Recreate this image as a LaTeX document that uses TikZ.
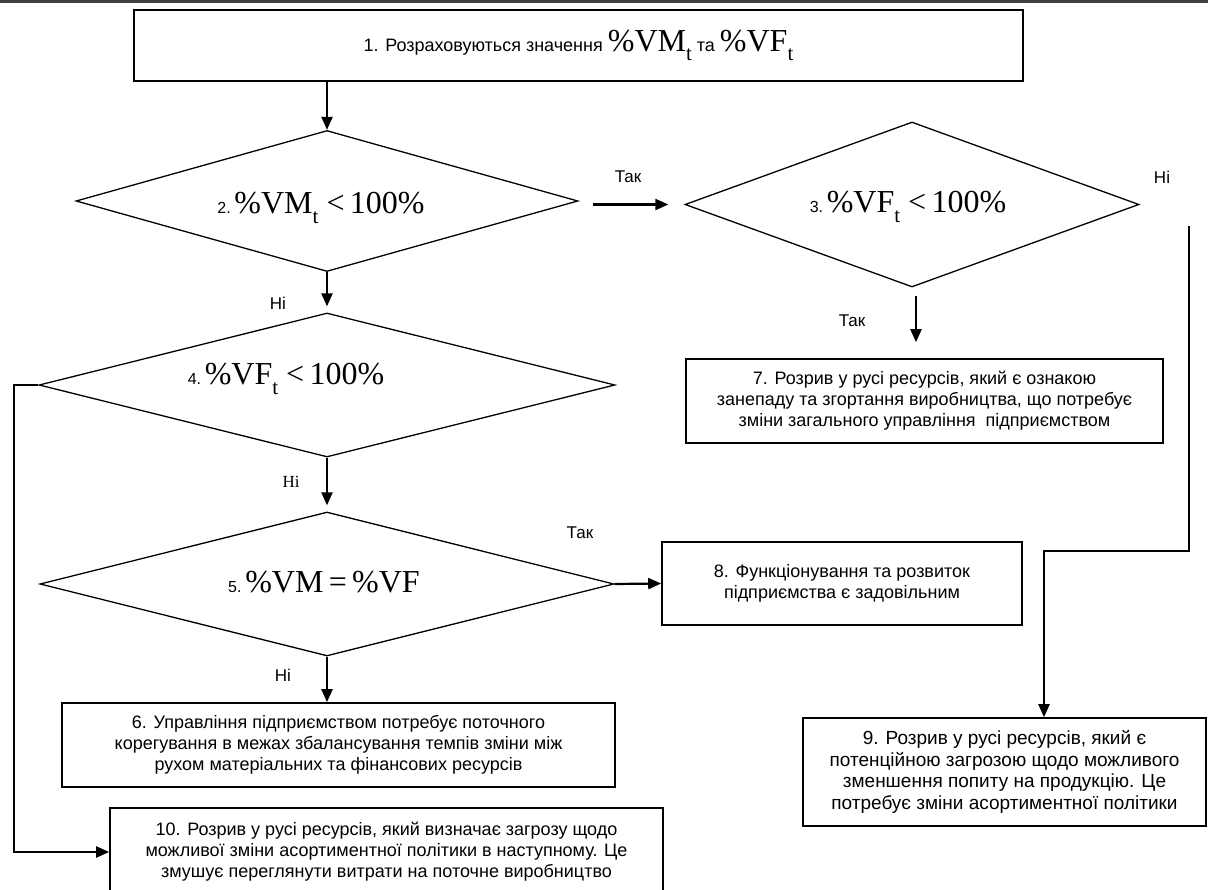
\documentclass[tikz,border=0pt]{standalone}
\usepackage{fontspec}
\setmainfont{Liberation Sans}
\newfontfamily\tnr{Liberation Serif}
\usetikzlibrary{shapes.geometric,arrows.meta,calc}
\newcommand{\mth}[1]{{\tnr\fontsize{32}{34}\selectfont #1}}
\newcommand{\sbt}{\raisebox{-0.3em}{\fontsize{21}{21}\selectfont t}}
\newcommand{\num}[1]{{\fontsize{16}{16}\selectfont #1}}
\tikzset{
  box/.style={draw, line width=1.6pt, rectangle, inner sep=0pt, align=center,
    font=\fontsize{18}{21}\selectfont},
  dia/.style={draw, line width=1.3pt, diamond, aspect=3.5, inner sep=0pt},
  dtext/.style={inner sep=0pt},
  arr/.style={line width=2.2pt, -{Triangle[length=13pt,width=11pt]}},
  lbl/.style={font=\fontsize{17}{17}\selectfont, inner sep=0pt},
}
\begin{document}
\begin{tikzpicture}[x=1pt,y=-1pt]
\useasboundingbox (0,0) rectangle (1208,890);
\clip (0,0) rectangle (1208,890);
\draw[line width=3pt, black!75] (0,2) -- (1208,2);

% boxes
\node[box, minimum width=889pt, minimum height=71pt] (B1) at (578.5,45.5)
  {1. Розраховуються значення \mth{\%VM\sbt} та \mth{\%VF\sbt}};
\node[box, minimum width=477pt, minimum height=84pt] (B7) at (924.5,401)
  {7. Розрив у русі ресурсів, який є ознакою\\занепаду та згортання виробництва, що потребує\\зміни загального управління~ підприємством};
\node[box, minimum width=360pt, minimum height=83pt] (B8) at (842,583.5)
  {8. Функціонування та розвиток\\підприємства є задовільним};
\node[box, minimum width=553pt, minimum height=84pt] (B6) at (338.5,745)
  {6. Управління підприємством потребує поточного\\корегування в межах збалансування темпів зміни між\\рухом матеріальних та фінансових ресурсів};
\node[box, minimum width=553pt, minimum height=88pt] (B10) at (386.5,852)
  {10. Розрив у русі ресурсів, який визначає загрозу щодо\\можливої зміни асортиментної політики в наступному. Це\\змушує переглянути витрати на поточне виробництво};
\node[box, minimum width=403pt, minimum height=108pt, font=\fontsize{19}{21.5}\selectfont] (B9) at (1004.5,772)
  {9. Розрив у русі ресурсів, який є\\потенційною загрозою щодо можливого\\зменшення попиту на продукцію. Це\\потребує зміни асортиментної політики};

% diamonds
\node[dia, minimum width=502pt, minimum height=141pt] (D2) at (327,201) {};
\node[dtext] (D2t) at (321,208) {\num{2.} \mth{\%VM\sbt\ <\,100\%}};
\node[dia, minimum width=454pt, minimum height=165pt] (D3) at (912,204.5) {};
\node[dtext] (D3t) at (908,207) {\num{3.} \mth{\%VF\sbt\ <\,100\%}};
\node[dia, minimum width=576pt, minimum height=144pt] (D4) at (327,385) {};
\node[dtext] (D4t) at (286,379) {\num{4.} \mth{\%VF\sbt\ <\,100\%}};
\node[dia, minimum width=574pt, minimum height=144pt] (D5) at (327,584) {};
\node[dtext] (D5t) at (324,582) {\num{5.} \mth{\%VM\,=\,\%VF}};

% connectors
\draw[arr] (B1.south -| D2.north) -- (D2.north);
\draw[arr] ([xshift=14pt]D2.east |- D3.west) -- ([xshift=-16pt]D3.west);
\draw[arr] (D2.south) -- ([yshift=6pt]D4.north);
\draw[arr] ($(D3.south)+(4,8)$) -- ($(D3.south |- B7.north)+(4,-16)$);
\coordinate (n3) at (1189,226);
\coordinate (n9) at (1044,551);
\draw[arr] (n3) |- (n9) -- (n9 |- B9.north);
\draw[arr] (D4.south) -- ([yshift=6pt]D5.north);
\draw[arr] (D4.west) -- ++(-24,0) |- (B10.west);
\draw[arr] (D5.east) -- (B8.west);
\draw[arr] (D5.south) -- (D5.south |- B6.north);

% labels
\node[lbl] (lT1) at (628,177) {Так};
\node[lbl] (lN3) at (1162,177) {Ні};
\node[lbl] (lN2) at (278,303) {Ні};
\node[lbl] (lT3) at (852,321) {Так};
\node[lbl, font=\tnr\fontsize{17}{17}\selectfont] (lN4) at (291,482) {Ні};
\node[lbl] (lT5) at (580,533) {Так};
\node[lbl] (lN5) at (283,675) {Ні};
\end{tikzpicture}
\end{document}
